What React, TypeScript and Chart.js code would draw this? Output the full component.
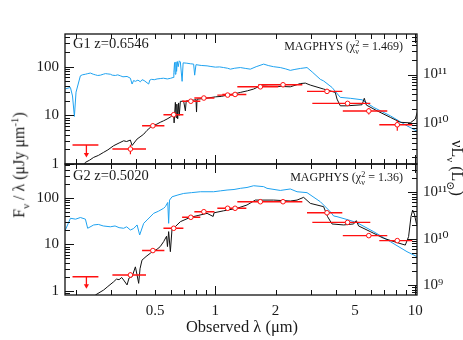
import React, { useEffect, useRef } from "react";
import { Chart, registerables } from "chart.js";

Chart.register(...registerables);

const FONT = "'Liberation Serif', 'DejaVu Serif', serif";
const RED = "#ff1010";
const BLUE = "#1ea2f0";
const BLACK = "#111111";

// ---- photometric bands (observed wavelength, μm) ----
const bandLambda = [0.2265, 0.376, 0.487, 0.619, 0.754, 0.876, 1.152, 1.255, 1.679, 2.18, 3.618, 4.586, 5.855, 8.128];
const bandLo = [0.193, 0.3055, 0.43, 0.55, 0.682, 0.785, 1.023, 1.084, 1.288, 1.641, 2.874, 3.055, 4.34, 6.607];
const bandHi = [0.26, 0.45, 0.556, 0.692, 0.841, 0.989, 1.288, 1.429, 2.065, 2.723, 4.315, 5.957, 7.244, 9.66];
const bandIsUpperLimit = [true, false, false, false, false, false, false, false, false, false, false, false, false, false];

// ---- G1 (z=0.6546) ----
const g1Flux = [2.45, 2.03, 6.1, 10.3, 19.5, 22.7, 26.1, 26.9, 38.6, 42.5, 31.1, 17.6, 12.3, 6.4];
const g1Err = [0, 0.45, 0.3, 0.5, 0.5, 0.6, 0.6, 0.6, 1.0, 1.0, 1.0, 1.0, 1.9, 1.6];
const g1Model: [number, number][] = [
  [0.22, 0.95], [0.2239, 1.08], [0.235, 1.2], [0.2463, 1.37], [0.26, 1.5], [0.2763, 1.74], [0.29, 1.95],
  [0.3101, 2.38], [0.33, 2.7], [0.3478, 3.0], [0.36, 2.9], [0.3758, 3.1],
  [0.3833, 2.4], [0.406, 3.26], [0.42, 3.6], [0.4381, 4.1], [0.455, 4.9], [0.4732, 5.66], [0.4861, 6.1],
  [0.51, 6.6], [0.53, 7.2], [0.55, 7.7], [0.5734, 8.4], [0.595, 9.2],
  [0.6186, 10.6], [0.622, 7], [0.631, 18.5], [0.636, 9], [0.642, 17], [0.648, 8.5], [0.655, 18], [0.66, 10],
  [0.6683, 19.4], [0.6942, 19.5], [0.708, 12.4], [0.715, 19.8], [0.7499, 20], [0.8, 21], [0.805, 11.7],
  [0.81, 21.5], [0.86, 22], [0.9089, 22.6], [1.0, 24], [1.07, 24.5], [1.144, 26], [1.24, 27.5], [1.334, 29.6],
  [1.45, 32], [1.554, 34.7], [1.679, 40.5], [1.85, 39.5],
  [2.113, 39.3], [2.371, 38.6], [2.661, 45], [2.818, 46], [2.985, 41.9], [3.479, 34.7], [3.981, 29.6],
  [4.06, 21.6], [4.217, 15.7], [4.556, 15.7], [5.414, 16.5], [5.559, 22.4], [5.689, 16.3], [6.434, 12.4],
  [7.499, 9.1], [8.414, 7.2], [9.441, 7.0], [10.0, 8.4], [10.35, 13.5],
];
const g1Unattenuated: [number, number][] = [
  [0.1778, 35], [0.1884, 37.5], [0.193, 25], [0.1972, 9.5], [0.201, 30], [0.2113, 65], [0.216, 68], [0.2239, 70],
  [0.23, 72], [0.2371, 74], [0.245, 70], [0.2512, 68], [0.258, 66], [0.2661, 67], [0.275, 70], [0.282, 72],
  [0.29, 71], [0.2985, 70], [0.305, 67], [0.316, 66], [0.325, 68], [0.335, 65], [0.345, 62], [0.3618, 63],
  [0.3758, 58], [0.3833, 44], [0.39, 52], [0.3981, 50], [0.41, 53], [0.4217, 49], [0.43, 54], [0.44, 52],
  [0.464, 44], [0.47, 53], [0.48, 55], [0.495, 54], [0.511, 56], [0.53, 57], [0.55, 58], [0.575, 56],
  [0.5957, 57.6], [0.615, 60], [0.62, 75], [0.625, 122], [0.63, 70],
  [0.635, 125], [0.64, 80], [0.645, 128], [0.652, 100], [0.66, 132], [0.6683, 125], [0.682, 50],
  [0.69, 120], [0.72, 118], [0.7499, 115], [0.7789, 113], [0.788, 67], [0.8, 110], [0.85, 106], [0.9089, 104],
  [0.95, 101], [1.0, 98], [1.05, 99], [1.1, 96], [1.15, 93], [1.189, 89], [1.25, 93], [1.334, 96], [1.42, 92],
  [1.496, 89], [1.6, 100], [1.744, 113], [1.85, 105], [1.956, 100], [2.113, 96], [2.25, 90], [2.371, 84],
  [2.5, 88], [2.661, 92], [2.874, 96], [3.05, 78], [3.35, 55], [3.479, 51], [3.833, 37.5], [4.217, 23.4],
  [4.732, 22.4], [5.414, 20.9], [6.187, 14.6], [7.499, 9.8], [9.089, 6.1], [10.35, 4.6],
];

// ---- G2 (z=0.5020) ----
const g2Flux = [2.03, 2.21, 7.4, 22.3, 38.4, 50.6, 60, 60, 83, 83, 48, 29.8, 15.5, 12.1];
const g2Err = [0, 0.3, 0.3, 0.8, 1, 1.5, 1.5, 1.5, 2, 2, 2, 1.5, 1.2, 1.0];
const g2Model: [number, number][] = [
  [0.2512, 0.82], [0.2763, 1.05], [0.29, 1.25], [0.3101, 1.58], [0.32, 1.8], [0.33, 1.75], [0.34, 1.95],
  [0.3478, 1.72], [0.3618, 1.35], [0.37, 1.9],
  [0.3833, 2.03], [0.3981, 3.3], [0.406, 2.2], [0.4135, 1.46], [0.42, 3.0], [0.4295, 4.6], [0.45, 5.5], [0.4732, 6.5],
  [0.4915, 7.2], [0.511, 7.9], [0.53, 9], [0.5512, 11.5], [0.57, 15], [0.576, 9], [0.584, 18.9], [0.5957, 7],
  [0.6075, 22.3], [0.6186, 22.3], [0.6683, 30.9], [0.7499, 38.4], [0.82, 42], [0.9089, 46.7], [0.975, 40],
  [0.985, 48], [1.1, 53], [1.284, 60], [1.44, 70.6], [1.585, 90], [1.956, 90], [2.371, 86], [2.562, 90],
  [2.764, 103], [2.985, 76.5], [3.479, 65], [3.643, 39.6], [3.833, 27.6], [4.381, 26.3], [4.915, 27.6],
  [5.07, 32.5], [5.206, 25], [5.957, 18.9], [6.943, 13.6], [8.099, 11], [8.913, 9.7], [9.258, 14.7],
  [9.517, 39.6], [9.7, 55], [9.9, 45], [10.12, 28.5], [10.35, 24],
];
const g2Unattenuated: [number, number][] = [
  [0.1778, 20.5], [0.1884, 36.6], [0.2, 35], [0.2113, 38], [0.2239, 35], [0.2298, 22.3], [0.2463, 26.3],
  [0.26, 27], [0.275, 25], [0.2985, 24], [0.315, 25], [0.33, 23], [0.3478, 22.3], [0.36, 24], [0.3758, 20.5],
  [0.39, 22], [0.406, 26.3], [0.4183, 16], [0.4381, 28.5], [0.4556, 33.6], [0.4915, 46.7], [0.52, 52],
  [0.5512, 60], [0.5623, 65], [0.578, 80], [0.584, 28.5], [0.59, 90], [0.6075, 106], [0.65, 116], [0.6942, 125],
  [0.76, 130], [0.8414, 136], [0.9806, 136], [1.06, 142], [1.144, 148], [1.24, 152], [1.334, 161], [1.44, 168],
  [1.554, 183], [1.744, 175], [1.813, 161], [2.113, 145], [2.371, 156], [2.562, 136], [2.874, 130], [3.35, 83],
  [3.758, 50.6], [3.904, 41], [4.06, 39.6], [4.641, 33.6], [5.111, 29.4], [6.187, 18.9], [7.499, 11.5],
  [9.089, 7.0], [10.35, 5.3],
];

// ---- axes ----
const xRange = [0.177, 10.2];
const g1FluxRange = [1.0, 470];
const g2FluxRange = [0.82, 537];
const g1LumPerFlux = 1.45e9;
const g2LumPerFlux = 7.5e8;
const xTickLabels = [0.5, 1, 2, 5, 10];
const fluxTickLabels = [1, 10, 100];
const lumTickLabels = [1e9, 1e10, 1e11];

const SUP: Record<string, string> = { "0": "⁰", "1": "¹", "2": "²", "3": "³", "4": "⁴", "5": "⁵", "6": "⁶", "7": "⁷", "8": "⁸", "9": "⁹" };
const pow10Label = (v: number) => "10" + String(Math.round(Math.log10(v))).split("").map((c) => SUP[c] || c).join("");

const framePlugin = {
  id: "frameTicks",
  afterDraw(chart: any) {
    const ctx = chart.ctx;
    const a = chart.chartArea;
    const sx = chart.scales.x;
    const sy = chart.scales.y;
    const sy2 = chart.scales.y2;
    ctx.save();
    ctx.strokeStyle = BLACK;
    ctx.lineWidth = 1;
    ctx.beginPath();
    const inRange = (s: any, v: number) => v >= s.min * 0.9999 && v <= s.max * 1.0001;
    for (const d of [0.1, 1, 10]) {
      for (let k = 1; k < 10; k++) {
        const v = d * k;
        if (!inRange(sx, v)) continue;
        const len = k === 1 ? 9 : 5;
        const p = Math.round(sx.getPixelForValue(v)) + 0.5;
        ctx.moveTo(p, a.bottom); ctx.lineTo(p, a.bottom - len);
        ctx.moveTo(p, a.top); ctx.lineTo(p, a.top + len);
      }
    }
    for (const d of [0.1, 1, 10, 100, 1000]) {
      for (let k = 1; k < 10; k++) {
        const v = d * k;
        if (!inRange(sy, v)) continue;
        const len = k === 1 ? 9 : 5;
        const p = Math.round(sy.getPixelForValue(v)) + 0.5;
        ctx.moveTo(a.left, p); ctx.lineTo(a.left + len, p);
      }
    }
    for (const d of [1e8, 1e9, 1e10, 1e11, 1e12]) {
      for (let k = 1; k < 10; k++) {
        const v = d * k;
        if (!inRange(sy2, v)) continue;
        const len = k === 1 ? 9 : 5;
        const p = Math.round(sy2.getPixelForValue(v)) + 0.5;
        ctx.moveTo(a.right, p); ctx.lineTo(a.right - len, p);
      }
    }
    ctx.stroke();
    ctx.lineWidth = 1.3;
    ctx.strokeRect(a.left, a.top, a.right - a.left, a.bottom - a.top);
    ctx.restore();
  },
};

type Panel = {
  flux: number[];
  err: number[];
  model: [number, number][];
  unatt: [number, number][];
  fluxRange: number[];
  lumPerFlux: number;
};

function buildDatasets(p: Panel) {
  const markers: any[] = [];
  const hbars: any[] = [];
  const vbars: any[] = [];
  const arrows: any[] = [];
  bandLambda.forEach((lam, i) => {
    const f = p.flux[i];
    hbars.push({ x: bandLo[i], y: f }, { x: bandHi[i], y: f }, { x: bandHi[i], y: null });
    if (bandIsUpperLimit[i]) {
      arrows.push({ x: lam, y: f }, { x: lam, y: f * 0.64 });
    } else {
      markers.push({ x: lam, y: f });
      if (p.err[i] > 0) vbars.push({ x: lam, y: f - p.err[i] }, { x: lam, y: f + p.err[i] }, { x: lam, y: null });
    }
  });
  return [
    { data: markers, showLine: false, pointRadius: 2.3, pointBorderWidth: 1, pointBackgroundColor: "#ffffff", pointBorderColor: RED, order: 0 },
    {
      data: arrows, showLine: true, borderColor: RED, borderWidth: 1.3, pointStyle: "triangle", rotation: 180,
      pointRadius: [0, 3], pointBackgroundColor: RED, pointBorderColor: RED, pointBorderWidth: 0, order: 0,
    },
    { data: hbars, showLine: true, spanGaps: false, borderColor: RED, borderWidth: 1.4, pointRadius: 0, order: 1 },
    { data: vbars, showLine: true, spanGaps: false, borderColor: RED, borderWidth: 1.2, pointRadius: 0, order: 1 },
    { data: p.model.map(([x, y]) => ({ x, y })), showLine: true, borderColor: BLACK, borderWidth: 1, pointRadius: 0, order: 2 },
    { data: p.unatt.map(([x, y]) => ({ x, y })), showLine: true, borderColor: BLUE, borderWidth: 1, pointRadius: 0, order: 3 },
  ];
}

function makeConfig(p: Panel, showX: boolean): any {
  const tickFont = { family: FONT, size: 15 };
  return {
    type: "scatter",
    data: { datasets: buildDatasets(p) },
    options: {
      responsive: false,
      animation: false,
      events: [],
      layout: showX
        ? { padding: { left: 5, right: 6, top: 164, bottom: 15 } }
        : { padding: { left: 5, right: 6, top: 34, bottom: 176 } },
      plugins: { legend: { display: false }, tooltip: { enabled: false } },
      scales: {
        x: {
          type: "logarithmic",
          min: xRange[0],
          max: xRange[1],
          display: showX,
          grid: { display: false, drawTicks: false },
          border: { display: false },
          afterBuildTicks: (s: any) => { s.ticks = xTickLabels.map((v) => ({ value: v })); },
          afterFit: (s: any) => { s.height = showX ? 30 : 0; },
          ticks: { autoSkip: false, maxRotation: 0, padding: 7, color: "#1a1a1a", font: tickFont, callback: (v: any) => String(v) },
        },
        y: {
          type: "logarithmic",
          position: "left",
          min: p.fluxRange[0],
          max: p.fluxRange[1],
          grid: { display: false, drawTicks: false },
          border: { display: false },
          afterBuildTicks: (s: any) => { s.ticks = fluxTickLabels.map((v) => ({ value: v })); },
          afterFit: (s: any) => { s.width = 60; },
          ticks: { autoSkip: false, padding: 6, color: "#1a1a1a", font: tickFont, callback: (v: any) => String(v) },
        },
        y2: {
          type: "logarithmic",
          position: "right",
          min: p.fluxRange[0] * p.lumPerFlux,
          max: p.fluxRange[1] * p.lumPerFlux,
          grid: { display: false, drawTicks: false },
          border: { display: false },
          afterBuildTicks: (s: any) => { s.ticks = lumTickLabels.filter((v) => v >= s.min && v <= s.max).map((v) => ({ value: v })); },
          afterFit: (s: any) => { s.width = 40; },
          ticks: { autoSkip: false, padding: 6, color: "#1a1a1a", font: tickFont, callback: (v: any) => pow10Label(Number(v)) },
        },
      },
    },
    plugins: [framePlugin],
  };
}

function PanelChart({ panel, showX }: { panel: Panel; showX: boolean }) {
  const ref = useRef<HTMLCanvasElement>(null);
  useEffect(() => {
    const chart = new Chart(ref.current as HTMLCanvasElement, makeConfig(panel, showX));
    return () => chart.destroy();
  }, []);
  return <canvas ref={ref} width={463} height={340} style={{ position: "absolute", left: 0, top: 0 }} />;
}

const g1Panel: Panel = { flux: g1Flux, err: g1Err, model: g1Model, unatt: g1Unattenuated, fluxRange: g1FluxRange, lumPerFlux: g1LumPerFlux };
const g2Panel: Panel = { flux: g2Flux, err: g2Err, model: g2Model, unatt: g2Unattenuated, fluxRange: g2FluxRange, lumPerFlux: g2LumPerFlux };

const textBase: React.CSSProperties = { position: "absolute", fontFamily: FONT, color: "#1a1a1a", whiteSpace: "nowrap", lineHeight: 1 };
const small: React.CSSProperties = { fontSize: "0.68em" };

function Chi() {
  return (
    <>
      χ
      <span style={{ display: "inline-block", verticalAlign: "-0.45em", lineHeight: 0.95, fontSize: "0.68em", textAlign: "left" }}>
        2<br />ν
      </span>
    </>
  );
}

export default function App() {
  return (
    <div style={{ position: "absolute", left: 0, top: 0, width: 463, height: 340, background: "#fff", overflow: "hidden" }}>
      <PanelChart panel={g1Panel} showX={false} />
      <PanelChart panel={g2Panel} showX={true} />
      <div style={{ ...textBase, left: 73, top: 36, fontSize: 14.5 }}>G1 z=0.6546</div>
      <div style={{ ...textBase, left: 73, top: 168, fontSize: 14.5 }}>G2 z=0.5020</div>
      <div style={{ ...textBase, right: 60, top: 40, fontSize: 12 }}>
        MAGPHYS (<Chi /> = 1.469)
      </div>
      <div style={{ ...textBase, right: 60, top: 171, fontSize: 12 }}>
        MAGPHYS (<Chi /> = 1.36)
      </div>
      <div style={{ ...textBase, left: 20, top: 165, fontSize: 16, transform: "translate(-50%, -50%) rotate(-90deg)" }}>
        F<sub style={small}>ν</sub> / λ (μJy μm<sup style={small}>-1</sup>)
      </div>
      <div style={{ ...textBase, left: 455, top: 168, fontSize: 16, transform: "translate(-50%, -50%) rotate(90deg)" }}>
        νL<sub style={small}>ν</sub> (L<sub style={small}>⊙</sub>)
      </div>
      <div style={{ ...textBase, left: 242, top: 327, fontSize: 16.5, transform: "translate(-50%, -50%)" }}>
        Observed λ (μm)
      </div>
    </div>
  );
}
